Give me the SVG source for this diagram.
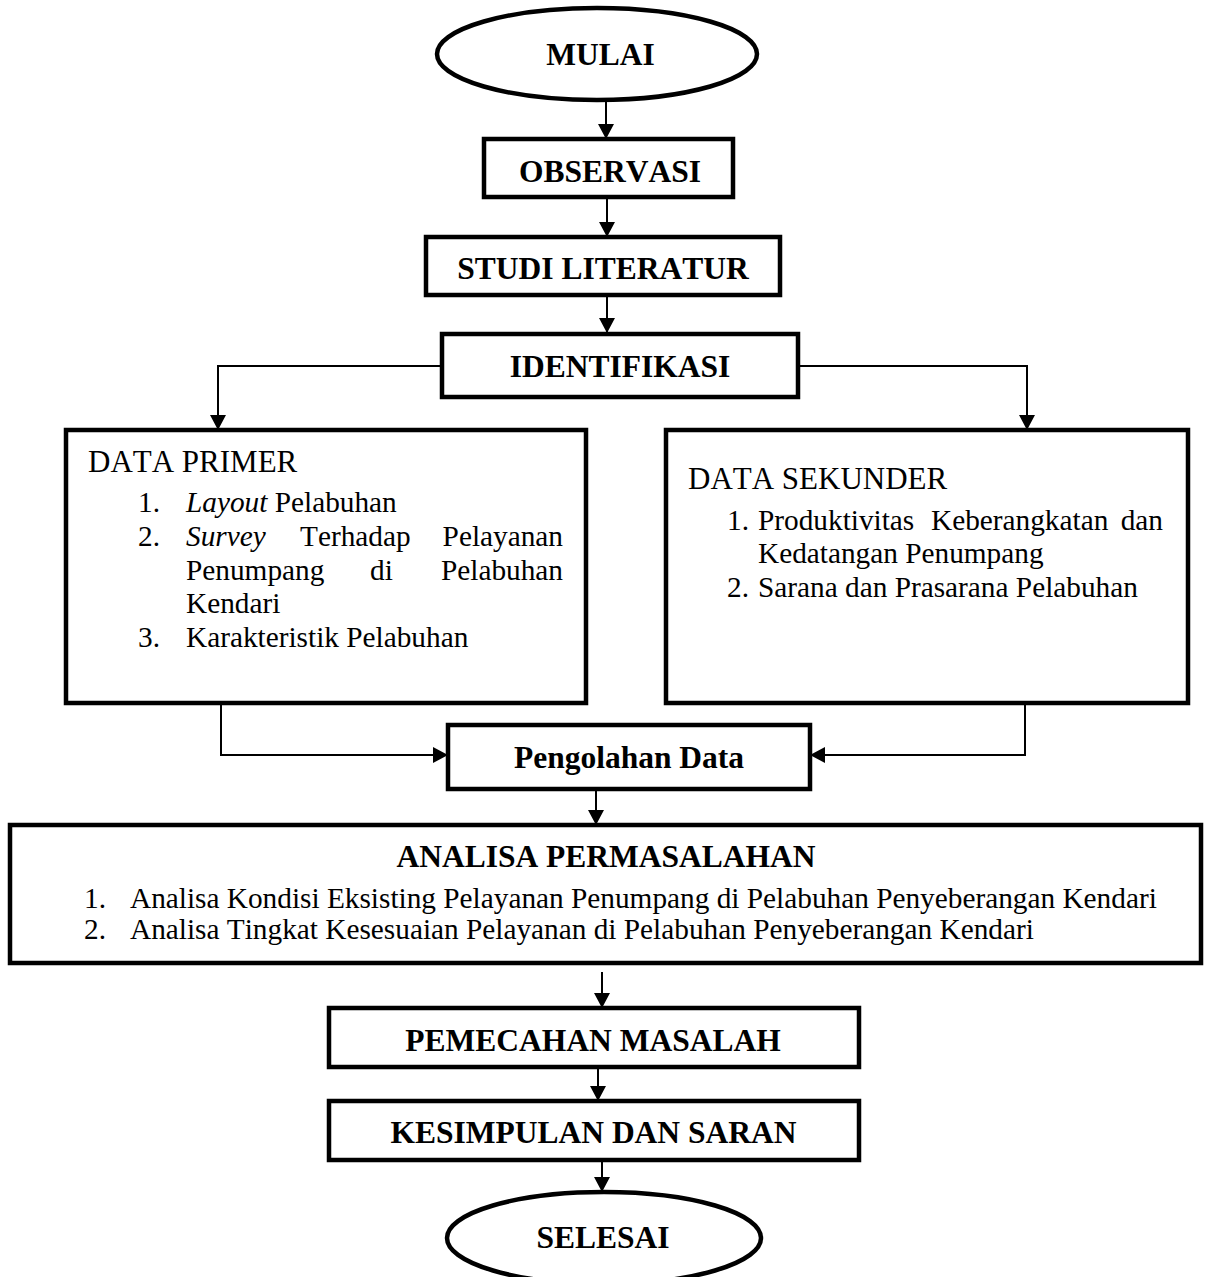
<svg xmlns="http://www.w3.org/2000/svg" width="1208" height="1277" viewBox="0 0 1208 1277">
<style>
.box{fill:#fff;stroke:#000;stroke-width:4.5}
.t{font-family:"Liberation Serif","Times New Roman",serif;fill:#000;font-kerning:none}
.b{font-weight:bold;font-size:31.5px;text-anchor:middle}
.r{font-size:29.3px}
.h{font-size:31px}
.c{fill:none;stroke:#000;stroke-width:2}
.i{font-style:italic}
</style>
<defs>
<marker id="ah" markerUnits="userSpaceOnUse" markerWidth="16" markerHeight="16" refX="15" refY="8" orient="auto">
<path d="M0,0 L15,8 L0,16 z" fill="#000"/>
</marker>
</defs>
<rect width="1208" height="1277" fill="#fff"/>
<g id="connectors">
<line class="c" x1="606" y1="100" x2="606" y2="139" marker-end="url(#ah)"/>
<line class="c" x1="607" y1="197" x2="607" y2="237" marker-end="url(#ah)"/>
<line class="c" x1="607" y1="295" x2="607" y2="333" marker-end="url(#ah)"/>
<polyline class="c" points="442,366 218,366 218,430" marker-end="url(#ah)"/>
<polyline class="c" points="798,366 1027,366 1027,430" marker-end="url(#ah)"/>
<polyline class="c" points="221,703 221,755 448,755" marker-end="url(#ah)"/>
<polyline class="c" points="1025,703 1025,755 810,755" marker-end="url(#ah)"/>
<line class="c" x1="596" y1="789" x2="596" y2="825" marker-end="url(#ah)"/>
<line class="c" x1="602" y1="972" x2="602" y2="1008" marker-end="url(#ah)"/>
<line class="c" x1="598" y1="1067" x2="598" y2="1101" marker-end="url(#ah)"/>
<line class="c" x1="602" y1="1160" x2="602" y2="1192" marker-end="url(#ah)"/>
</g>
<g id="mulai">
<ellipse class="box" cx="597" cy="54" rx="160" ry="46"/>
<text class="t b" x="600.5" y="65">MULAI</text>
</g>
<g id="observasi">
<rect class="box" x="484" y="139" width="249" height="58"/>
<text class="t b" x="610" y="182">OBSERVASI</text>
</g>
<g id="studi">
<rect class="box" x="426" y="237" width="354" height="58"/>
<text class="t b" x="603" y="279">STUDI LITERATUR</text>
</g>
<g id="identifikasi">
<rect class="box" x="442" y="334" width="356" height="63"/>
<text class="t b" x="620" y="377">IDENTIFIKASI</text>
</g>
<g id="data-primer">
<rect class="box" x="66" y="430" width="520" height="273"/>
<text class="t h" x="88" y="472">DATA PRIMER</text>
<text class="t r" x="138" y="512">1.</text>
<text class="t r" x="186" y="512"><tspan class="i">Layout</tspan> Pelabuhan</text>
<text class="t r" x="138" y="546">2.</text>
<text class="t r i" x="186" y="546">Survey</text>
<text class="t r" x="300" y="546">Terhadap</text>
<text class="t r" x="563" y="546" text-anchor="end">Pelayanan</text>
<text class="t r" x="186" y="580">Penumpang</text>
<text class="t r" x="370" y="580">di</text>
<text class="t r" x="563" y="580" text-anchor="end">Pelabuhan</text>
<text class="t r" x="186" y="613">Kendari</text>
<text class="t r" x="138" y="647">3.</text>
<text class="t r" x="186" y="647">Karakteristik Pelabuhan</text>
</g>
<g id="data-sekunder">
<rect class="box" x="666" y="430" width="522" height="273"/>
<text class="t h" x="688" y="489">DATA SEKUNDER</text>
<text class="t r" x="727" y="530">1.</text>
<text class="t r" x="758" y="530">Produktivitas</text>
<text class="t r" x="931" y="530">Keberangkatan</text>
<text class="t r" x="1163" y="530" text-anchor="end">dan</text>
<text class="t r" x="758" y="563">Kedatangan Penumpang</text>
<text class="t r" x="727" y="597">2.</text>
<text class="t r" x="758" y="597">Sarana dan Prasarana Pelabuhan</text>
</g>
<g id="pengolahan">
<rect class="box" x="448" y="725" width="362" height="64"/>
<text class="t b" x="629" y="768">Pengolahan Data</text>
</g>
<g id="analisa">
<rect class="box" x="10" y="825" width="1191" height="138"/>
<text class="t b" x="606" y="867">ANALISA PERMASALAHAN</text>
<text class="t r" x="84" y="908">1.</text>
<text class="t r" x="130" y="908">Analisa Kondisi Eksisting Pelayanan Penumpang di Pelabuhan Penyeberangan Kendari</text>
<text class="t r" x="84" y="939">2.</text>
<text class="t r" x="130" y="939">Analisa Tingkat Kesesuaian Pelayanan di Pelabuhan Penyeberangan Kendari</text>
</g>
<g id="pemecahan">
<rect class="box" x="329" y="1008" width="530" height="59"/>
<text class="t b" x="593" y="1051">PEMECAHAN MASALAH</text>
</g>
<g id="kesimpulan">
<rect class="box" x="329" y="1101" width="530" height="59"/>
<text class="t b" x="593.5" y="1143">KESIMPULAN DAN SARAN</text>
</g>
<g id="selesai">
<ellipse class="box" cx="604" cy="1238" rx="157" ry="46"/>
<text class="t b" x="603" y="1248">SELESAI</text>
</g>
</svg>
